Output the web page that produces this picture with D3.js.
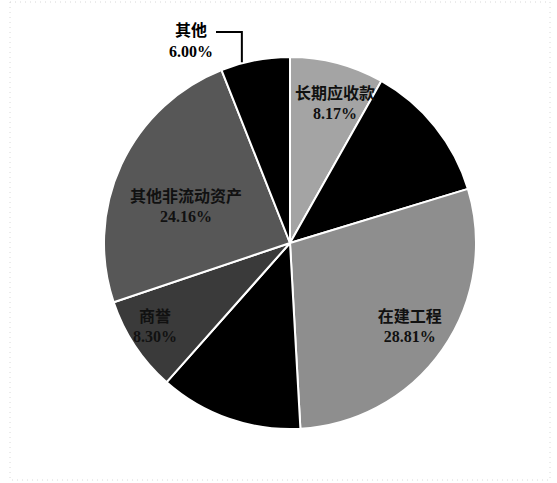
<!DOCTYPE html>
<html><head><meta charset="utf-8">
<script src="https://cdn.jsdelivr.net/npm/d3@7"></script>
<style>body{margin:0;background:#fff;}svg{display:block;}</style>
</head><body>
<svg id="c" width="557" height="483"></svg>
<script>
const categories = ["长期应收款", "应收款项", "在建工程", "固定资产", "商誉", "其他非流动资产", "其他"];
const values = [8.17, 12.13, 28.81, 12.43, 8.30, 24.16, 6.00];
const labelsShown = ["8.17%", "", "28.81%", "", "8.30%", "24.16%", "6.00%"];
const fills = ["#a4a4a4", "#000000", "#8e8e8e", "#000000", "#3a3a3a", "#575757", "#000000"];

const svg = d3.select("#c");
const cx = 290, cy = 243, r = 186;

// faint border
svg.append("rect").attr("x", 10).attr("y", 2).attr("width", 540).attr("height", 478)
  .attr("fill", "none").attr("stroke", "#d8d8d8").attr("stroke-width", 1).attr("stroke-dasharray", "1,4");

const data = categories.map((c, i) => ({cat: c, v: values[i], lab: labelsShown[i], fill: fills[i]}));
const pie = d3.pie().value(d => d.v).sort(null);
const arcs = pie(data);
const arc = d3.arc().innerRadius(0).outerRadius(r);

const g = svg.append("g").attr("transform", `translate(${cx},${cy})`);
g.selectAll("path").data(arcs).enter().append("path")
  .attr("d", arc).attr("fill", d => d.data.fill)
  .attr("stroke", "#fff").attr("stroke-width", 2).attr("stroke-linejoin", "round");

const font = "'Liberation Serif','Noto Sans CJK SC',serif";
const deg = Math.PI / 180;
// inside labels: slice index, radius factor, angular shift (deg)
const inside = [
  {i: 0, rf: 0.796, da: 3.0},
  {i: 2, rf: 0.78, da: -0.5},
  {i: 4, rf: 0.85, da: 2.2},
  {i: 5, rf: 0.595, da: -4.8}
];
inside.forEach(o => {
  const a = arcs[o.i];
  const ang = (a.startAngle + a.endAngle) / 2 + o.da * deg;
  const rr = r * o.rf;
  const x = Math.sin(ang) * rr, y = -Math.cos(ang) * rr;
  const t = g.append("text").attr("x", x).attr("y", y).attr("text-anchor", "middle")
    .attr("font-family", font).attr("font-size", 16).attr("font-weight", "bold").attr("fill", "#111");
  t.append("tspan").attr("x", x).attr("dy", "-0.2em").text(a.data.cat);
  t.append("tspan").attr("x", x).attr("dy", "1.25em").text(a.data.lab);
});

// outside label for 其他
const oa = arcs[6];
const oang = (oa.startAngle + oa.endAngle) / 2 - 4.2 * deg;
const ex = Math.sin(oang) * r, ey = -Math.cos(oang) * r;
g.append("path")
  .attr("d", `M${ex},${ey - 1} L${ex},${-211} L${-74},${-211}`)
  .attr("fill", "none").attr("stroke", "#000").attr("stroke-width", 2);
const ot = g.append("text").attr("text-anchor", "middle")
  .attr("font-family", font).attr("font-size", 16).attr("font-weight", "bold").attr("fill", "#000");
ot.append("tspan").attr("x", -99).attr("y", -207).text(oa.data.cat);
ot.append("tspan").attr("x", -99).attr("y", -186).text(oa.data.lab);
</script>
</body></html>
